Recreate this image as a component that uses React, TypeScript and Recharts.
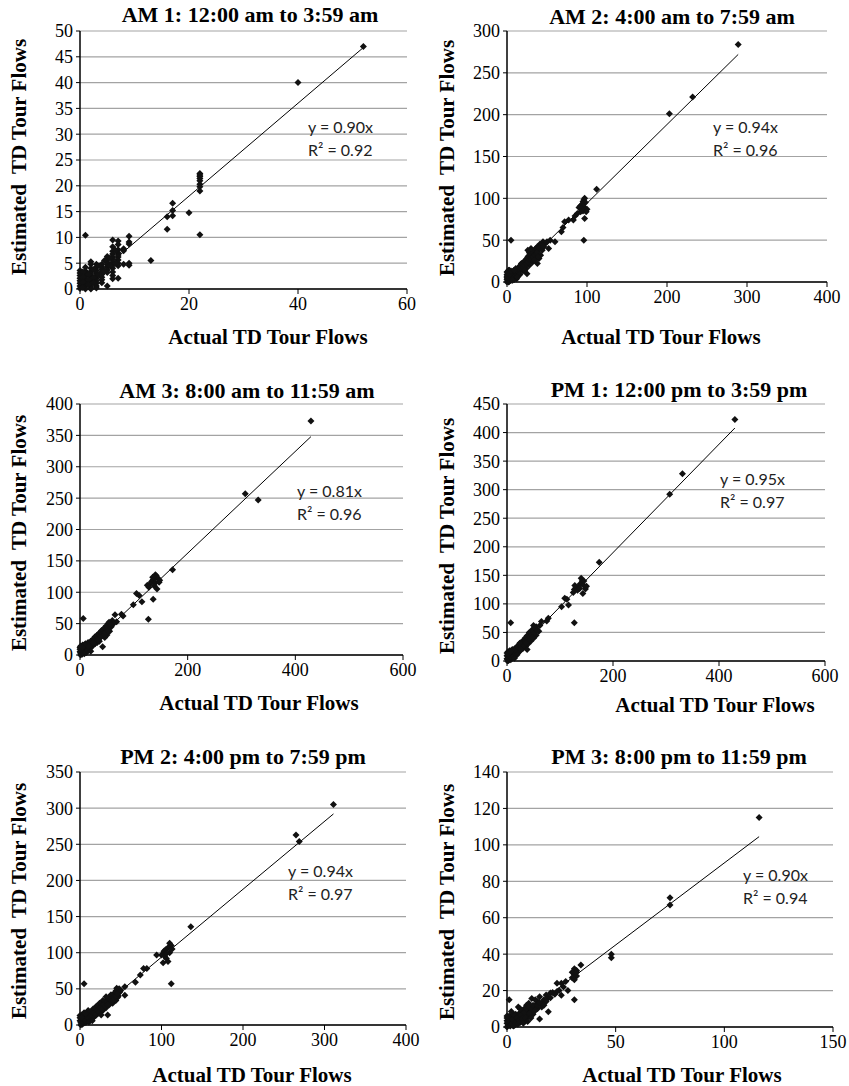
import React from 'react';
import { ScatterChart, Scatter, XAxis, YAxis, CartesianGrid, ReferenceLine } from 'recharts';

// [actual, estimated] pairs
const am1Points: [number, number][] = [
  [52, 47], [40, 40],
  [22, 22.4], [22, 22.1], [22, 21.8], [22, 21.4], [22, 21], [22, 20.3], [22, 19.8], [22, 19], [22, 10.5],
  [20, 14.8], [17, 16.6], [17, 15.2], [17, 14.2], [16, 14], [16, 11.6], [13, 5.5],
  [9, 10.2], [9, 9.1], [9, 8.7], [9, 5], [9, 4.6], [8, 7.8], [8, 7.4], [8, 4.8],
  [7, 9.3], [7, 8.6], [7, 7.6], [7, 7], [7, 6.6], [7, 6.2], [7, 5.6], [7, 5], [7, 4.5], [7, 2.1],
  [6, 9.5], [6, 8.2], [6, 7.3], [6, 6.8], [6, 6.2], [6, 5.7], [6, 5.2], [6, 4.6], [6, 4], [6, 3.3], [6, 2.6], [6, 2],
  [5, 6.3], [5, 5.7], [5, 5.2], [5, 4.7], [5, 4.2], [5, 3.7], [5, 3.2], [5, 0.6],
  [4, 4.8], [4, 4.3], [4, 3.8], [4, 3.3], [4, 2.8], [4, 2.3], [4, 1.8], [4, 1.2],
  [3, 4.8], [3, 4.2], [3, 3.6], [3, 3.1], [3, 2.6], [3, 2.1], [3, 1.6], [3, 1.1], [3, 0.6], [3, 0.2],
  [2, 5.3], [2, 4.8], [2, 4], [2, 3.4], [2, 2.9], [2, 2.4], [2, 1.9], [2, 1.4], [2, 0.9], [2, 0.4], [2, 0],
  [1, 10.4], [1, 4.2], [1, 3.5], [1, 3], [1, 2.5], [1, 2], [1, 1.5], [1, 1], [1, 0.5], [1, 0],
  [0, 3.6], [0, 3.1], [0, 2.6], [0, 2.1], [0, 1.6], [0, 1.1], [0, 0.6], [0, 0.1],
  [0.5, 3.3], [0.5, 2.3], [0.5, 1.3], [0.5, 0.3], [1.5, 2.8], [1.5, 1.8], [1.5, 0.8],
  [2.5, 3.8], [2.5, 2.2], [2.5, 1.2], [3.5, 4.5], [3.5, 2.8], [4.5, 5.5], [4.5, 3.5],
  [5.5, 6], [5.5, 4.5], [6.5, 7.5], [6.5, 5],
];

const am2Points: [number, number][] = [
  [289, 284], [232, 221], [203, 201], [112, 111], [96, 50], [5, 50],
  [97, 100], [96, 98], [95, 96], [98, 95], [94, 93], [92, 91], [96, 90], [90, 89], [93, 88], [100, 87],
  [97, 86], [95, 85], [99, 84], [92, 84], [97, 76],
  [88, 82], [85, 79], [83, 74], [77, 74], [72, 72], [70, 65], [68, 60], [60, 48], [54, 50], [52, 40], [45, 48], [41, 45], [42, 44],
  [38, 42], [37, 38], [35, 36], [33, 34], [31, 38], [30, 32], [29, 29], [28, 35], [27, 26], [26, 30], [25, 24], [25, 10],
  [24, 27], [23, 20], [22, 23], [21, 18], [20, 21], [19, 16], [18, 19], [17, 15], [16, 18], [15, 13], [14, 17], [13, 11],
  [12, 14], [11, 9], [10, 12], [9, 7], [8, 10], [7, 5], [6, 8], [5, 3], [4, 12], [3, 6], [2, 14], [2, 2], [1, 9], [1, 4],
  [0, 12], [0, 7], [0, 3], [0, 0], [3, 1], [6, 2], [9, 3], [12, 4], [38, 22], [35, 27], [40, 28], [42, 32], [32, 24],
  [28, 20], [30, 26], [20, 13], [18, 22], [14, 9], [11, 16], [7, 12], [5, 10], [3, 14], [10, 5], [15, 8], [24, 16], [36, 30],
  [1, 2], [2, 5], [3, 3], [4, 7], [5, 6], [6, 4], [7, 9], [8, 6], [9, 11], [10, 8], [11, 13], [12, 10], [13, 15], [14, 12],
  [15, 17], [16, 14], [17, 20], [18, 16], [19, 22], [20, 18], [21, 24], [22, 20], [23, 26], [24, 22], [25, 28], [26, 24],
  [27, 31], [28, 27], [29, 33], [30, 29], [31, 27], [32, 36], [33, 30], [34, 38], [35, 32], [36, 40], [37, 34], [38, 36],
  [39, 30], [40, 41], [0, 5], [0, 9], [1, 12], [4, 2], [2, 0], [6, 11], [8, 13], [26, 38], [30, 40], [16, 9], [22, 14],
  [34, 26], [44, 38], [48, 46], [46, 42], [50, 48], [1, 7], [3, 9], [5, 13], [7, 2], [9, 14], [13, 6],
];

const am3Points: [number, number][] = [
  [429, 373], [307, 257], [331, 247], [172, 136],
  [140, 128], [142, 126], [138, 124], [145, 122], [136, 120], [133, 117], [140, 115], [147, 116], [130, 113], [138, 110],
  [125, 111], [143, 105], [128, 108], [148, 119], [135, 124],
  [136, 89], [127, 57], [6, 58], [105, 98], [110, 95], [115, 85], [99, 80], [77, 65], [80, 62], [65, 64], [68, 53],
  [60, 55], [56, 51], [55, 47], [52, 50], [50, 43], [48, 46], [46, 40], [44, 42], [42, 37], [40, 39], [38, 33], [36, 35],
  [34, 30], [32, 32], [30, 27], [28, 29], [26, 23], [24, 25], [22, 20], [20, 22], [18, 16], [16, 18], [14, 13], [12, 15],
  [10, 9], [8, 11], [6, 6], [4, 8], [2, 3], [0, 5], [0, 12], [2, 14], [5, 16], [8, 2], [12, 4], [16, 8], [20, 12], [24, 15],
  [28, 18], [32, 20], [42, 13], [46, 28], [50, 32], [36, 22], [10, 18], [15, 20], [4, 1], [1, 0], [55, 38], [58, 45],
  [62, 50], [40, 30], [30, 22], [18, 10], [6, 15], [3, 10], [12, 8], [22, 14],
  [1, 3], [3, 6], [5, 4], [7, 9], [9, 6], [11, 12], [13, 10], [15, 15], [17, 13], [19, 19], [21, 17], [23, 22], [25, 20],
  [27, 26], [29, 24], [31, 30], [33, 27], [35, 33], [37, 30], [39, 36], [41, 34], [43, 39], [45, 36], [47, 43], [49, 40],
  [51, 46], [53, 43], [54, 52], [57, 48], [44, 31], [38, 28], [26, 18], [14, 7], [7, 14], [9, 16], [2, 8], [0, 9], [1, 14],
  [48, 36], [52, 38], [34, 24], [20, 6], [16, 14], [24, 20], [4, 12],
];

const pm1Points: [number, number][] = [
  [430, 423], [331, 328], [307, 292], [174, 173],
  [140, 145], [142, 140], [138, 135], [145, 132], [135, 130], [130, 128], [127, 125], [133, 124], [148, 126], [150, 131],
  [125, 120], [143, 118], [137, 127], [128, 132], [145, 140],
  [127, 67], [7, 67], [109, 110], [103, 95], [116, 98], [113, 108], [78, 75], [75, 70], [65, 69], [62, 62], [55, 60],
  [50, 62], [54, 55], [50, 50], [48, 55], [46, 48], [44, 45], [42, 50], [40, 42], [38, 44], [36, 38], [34, 40], [32, 34],
  [30, 35], [28, 30], [26, 32], [24, 26], [22, 28], [20, 22], [18, 24], [16, 18], [14, 20], [12, 14], [10, 16], [8, 10],
  [6, 12], [4, 6], [2, 8], [0, 4], [0, 14], [2, 16], [5, 18], [8, 3], [12, 6], [16, 10], [20, 14], [25, 18], [30, 22],
  [35, 26], [40, 30], [38, 20], [45, 35], [50, 40], [55, 45], [10, 20], [15, 22], [3, 1], [1, 0], [6, 2], [18, 12],
  [22, 16], [28, 24], [33, 28], [44, 38], [60, 52],
  [1, 3], [3, 5], [5, 9], [7, 7], [9, 13], [11, 10], [13, 17], [15, 14], [17, 21], [19, 18], [21, 25], [23, 22], [25, 29],
  [27, 26], [29, 33], [31, 30], [33, 37], [35, 34], [37, 41], [39, 38], [41, 45], [43, 42], [45, 50], [47, 46], [49, 52],
  [51, 48], [53, 58], [57, 54], [4, 14], [0, 9], [2, 12], [8, 18], [13, 8], [19, 11], [26, 21], [32, 27], [42, 36], [48, 41],
  [36, 32], [24, 31], [14, 5], [6, 16],
];

const pm2Points: [number, number][] = [
  [311, 305], [265, 263], [269, 254], [136, 136],
  [110, 113], [112, 110], [108, 107], [105, 104], [103, 102], [110, 100], [100, 97], [104, 95], [106, 92], [102, 86],
  [108, 88], [113, 105], [106, 99],
  [112, 57], [5, 57], [94, 97], [82, 78], [78, 78], [74, 69], [68, 59], [55, 53], [55, 41], [45, 51], [48, 50], [44, 47],
  [42, 44], [40, 40], [38, 42], [36, 38], [34, 36], [32, 39], [30, 32], [28, 34], [26, 28], [24, 30], [22, 24], [20, 26],
  [18, 20], [16, 22], [14, 16], [12, 18], [10, 12], [8, 14], [6, 8], [4, 10], [2, 4], [0, 6], [0, 13], [2, 14], [5, 17],
  [8, 4], [12, 6], [16, 10], [20, 14], [24, 17], [28, 20], [32, 24], [34, 14], [36, 28], [40, 30], [44, 34], [46, 38],
  [10, 20], [14, 8], [3, 1], [1, 0], [6, 3], [18, 12], [22, 16], [26, 20], [30, 26], [42, 36], [48, 45], [38, 32],
  [1, 3], [3, 5], [5, 8], [7, 6], [9, 11], [11, 9], [13, 14], [15, 12], [17, 17], [19, 15], [21, 20], [23, 18], [25, 24],
  [27, 22], [29, 28], [31, 26], [33, 32], [35, 30], [37, 35], [39, 33], [41, 38], [43, 36], [45, 42], [47, 40], [49, 46],
  [4, 14], [0, 10], [2, 10], [7, 16], [11, 4], [15, 6], [26, 14], [34, 28], [40, 34], [44, 40], [46, 44], [50, 48],
];

const pm3Points: [number, number][] = [
  [116, 115], [75, 71], [75, 67], [48, 40], [48, 38], [34, 34],
  [31, 32], [32, 31], [30, 30], [31, 29], [32, 28], [30, 27], [31, 26], [32, 30],
  [31, 15], [1, 15], [25, 24], [24, 20], [28, 20], [25, 17.5], [23, 24], [20, 18.7], [18, 17.6], [19, 8.4], [15, 16.6],
  [15, 4.4], [11.4, 15.7], [9, 12], [5.2, 11],
  [14, 14], [13, 12], [12, 10], [11, 11], [10, 9], [10, 13], [9, 8], [8, 10], [8, 6], [7, 7], [7, 9], [6, 5], [6, 8],
  [5, 6], [5, 3], [4, 4], [4, 7], [3, 2], [3, 5], [2, 3], [2, 6], [1, 1], [1, 4], [0, 2], [0, 5], [0, 0], [1.5, 2.5],
  [2.5, 1], [3.5, 3], [4.5, 2], [6.5, 4], [8, 3], [10, 6], [12, 7], [14, 10], [16, 13], [17, 15], [19, 16], [21, 19],
  [22, 18], [26, 22], [27, 25], [13, 15], [16, 11], [18, 14], [9, 5], [11, 8],
  [0.5, 1], [0.5, 3.5], [1, 6], [1.5, 0.5], [2, 1.5], [2.5, 4], [3, 7], [3.5, 1], [4, 2.5], [4.5, 5], [5, 1.5], [5.5, 4],
  [6, 2.5], [6.5, 6.5], [7, 4.5], [7.5, 2], [8, 8], [8.5, 5], [9, 10], [9.5, 3], [10, 11], [10.5, 7.5], [11, 5],
  [11.5, 10], [12, 12], [12.5, 8.5], [13, 9.5], [14, 12], [15, 13.5], [0, 3.5], [0, 6], [2, 8.5], [3, 0.5], [6, 10],
  [17, 12], [20, 16], [23, 19.5],
];

// fitted line end points (through origin)
const trendEnds: [number, number][] = [[52, 46.8], [289, 272], [429, 348], [430, 408], [311, 292], [116, 104.5]];

const titles = [
  'AM 1: 12:00 am to 3:59 am',
  'AM 2: 4:00 am to 7:59 am',
  'AM 3: 8:00 am to 11:59 am',
  'PM 1: 12:00 pm to 3:59 pm',
  'PM 2: 4:00 pm to 7:59 pm',
  'PM 3: 8:00 pm to 11:59 pm',
];
const slopes = ['0.90', '0.94', '0.81', '0.95', '0.94', '0.90'];
const rSquared = ['0.92', '0.96', '0.96', '0.97', '0.97', '0.94'];

const xTicks = [[0, 20, 40, 60], [0, 100, 200, 300, 400], [0, 200, 400, 600], [0, 200, 400, 600], [0, 100, 200, 300, 400], [0, 50, 100, 150]];
const yTicks = [
  [0, 5, 10, 15, 20, 25, 30, 35, 40, 45, 50],
  [0, 50, 100, 150, 200, 250, 300],
  [0, 50, 100, 150, 200, 250, 300, 350, 400],
  [0, 50, 100, 150, 200, 250, 300, 350, 400, 450],
  [0, 50, 100, 150, 200, 250, 300, 350],
  [0, 20, 40, 60, 80, 100, 120, 140],
];

const allPoints = [am1Points, am2Points, am3Points, pm1Points, pm2Points, pm3Points];

const layouts = [
  { left: 0, top: 0, plot: { l: 80, t: 31, r: 407, b: 289 }, title: { x: 250, y: 15 }, xTitle: { x: 268, y: 337 }, yTitle: { x: 19, y: 157 }, eq: { x: 308, y: 126 } },
  { left: 425, top: 0, plot: { l: 82, t: 31, r: 402, b: 282 }, title: { x: 247, y: 17 }, xTitle: { x: 236, y: 337 }, yTitle: { x: 22, y: 158 }, eq: { x: 288, y: 126 } },
  { left: 0, top: 360, plot: { l: 80, t: 44, r: 403, b: 295 }, title: { x: 247, y: 31 }, xTitle: { x: 259, y: 343 }, yTitle: { x: 19, y: 173 }, eq: { x: 297, y: 130 } },
  { left: 425, top: 360, plot: { l: 82, t: 44, r: 400, b: 301 }, title: { x: 254, y: 30 }, xTitle: { x: 290, y: 345 }, yTitle: { x: 22, y: 176 }, eq: { x: 295, y: 118 } },
  { left: 0, top: 720, plot: { l: 80, t: 52, r: 406, b: 305 }, title: { x: 243, y: 37 }, xTitle: { x: 252, y: 355 }, yTitle: { x: 19, y: 181 }, eq: { x: 288, y: 150 } },
  { left: 425, top: 720, plot: { l: 82, t: 52, r: 408, b: 307 }, title: { x: 254, y: 37 }, xTitle: { x: 257, y: 355 }, yTitle: { x: 22, y: 182 }, eq: { x: 318, y: 154 } },
];

const W = 425;
const H = 366;
const Y_AXIS_W = 60;
const X_AXIS_H = 30;
const serif = '"Liberation Serif", "Times New Roman", serif';
const tickStyle = { fontSize: 18, fill: '#000', fontFamily: serif };

const Diamond = (props: any) => {
  const { cx, cy } = props;
  if (cx == null || cy == null) return null;
  const r = 3.5;
  return <path d={`M${cx},${cy - r}L${cx + r},${cy}L${cx},${cy + r}L${cx - r},${cy}Z`} fill="#111" />;
};

const Panel = ({ i }: { i: number }) => {
  const lay = layouts[i];
  const p = lay.plot;
  const data = allPoints[i].map(([x, y]) => ({ x, y }));
  const xt = xTicks[i];
  const yt = yTicks[i];
  const end = trendEnds[i];

  const centered: React.CSSProperties = {
    position: 'absolute',
    transform: 'translate(-50%, -50%)',
    whiteSpace: 'nowrap',
    fontFamily: serif,
    fontWeight: 'bold',
    color: '#000',
    lineHeight: 1,
  };

  return (
    <div style={{ position: 'absolute', left: lay.left, top: lay.top, width: W, height: H }}>
      <ScatterChart
        width={W}
        height={H}
        margin={{ top: p.t, left: p.l - Y_AXIS_W, right: W - p.r, bottom: H - p.b - X_AXIS_H }}
      >
        <CartesianGrid vertical={false} stroke="#a3a3a3" strokeWidth={1.2} />
        <XAxis
          type="number"
          dataKey="x"
          domain={[xt[0], xt[xt.length - 1]]}
          ticks={xt}
          height={X_AXIS_H}
          tick={tickStyle}
          tickLine={{ stroke: '#000' }}
          axisLine={{ stroke: '#000', strokeWidth: 1.5 }}
          tickSize={5}
          tickMargin={3}
          interval={0}
        />
        <YAxis
          type="number"
          dataKey="y"
          domain={[yt[0], yt[yt.length - 1]]}
          ticks={yt}
          width={Y_AXIS_W}
          tick={tickStyle}
          tickLine={{ stroke: '#000' }}
          axisLine={{ stroke: '#000', strokeWidth: 1.5 }}
          tickSize={4}
          tickMargin={3}
          interval={0}
        />
        <ReferenceLine
          segment={[{ x: 0, y: 0 }, { x: end[0], y: end[1] }]}
          stroke="#000"
          strokeWidth={1}
        />
        <Scatter data={data} shape={Diamond} isAnimationActive={false} />
      </ScatterChart>

      <div style={{ ...centered, left: lay.title.x, top: lay.title.y, fontSize: 22 }}>{titles[i]}</div>
      <div style={{ ...centered, left: lay.xTitle.x, top: lay.xTitle.y, fontSize: 21 }}>Actual TD Tour Flows</div>
      <div style={{ ...centered, left: lay.yTitle.x, top: lay.yTitle.y, fontSize: 21, transform: 'translate(-50%, -50%) rotate(-90deg)', whiteSpace: 'pre' }}>
        {'Estimated  TD Tour Flows'}
      </div>
      <div style={{ position: 'absolute', left: lay.eq.x, top: lay.eq.y - 11, fontFamily: 'Lato, "Open Sans", sans-serif', fontSize: 16, lineHeight: '23px', color: '#222', whiteSpace: 'nowrap' }}>
        <div>y = {slopes[i]}x</div>
        <div>R² = {rSquared[i]}</div>
      </div>
    </div>
  );
};

export default function App() {
  return (
    <div style={{ position: 'absolute', left: 0, top: 0, width: 849, height: 1086, background: '#fff', overflow: 'hidden' }}>
      {titles.map((_, i) => (
        <Panel key={i} i={i} />
      ))}
    </div>
  );
}
